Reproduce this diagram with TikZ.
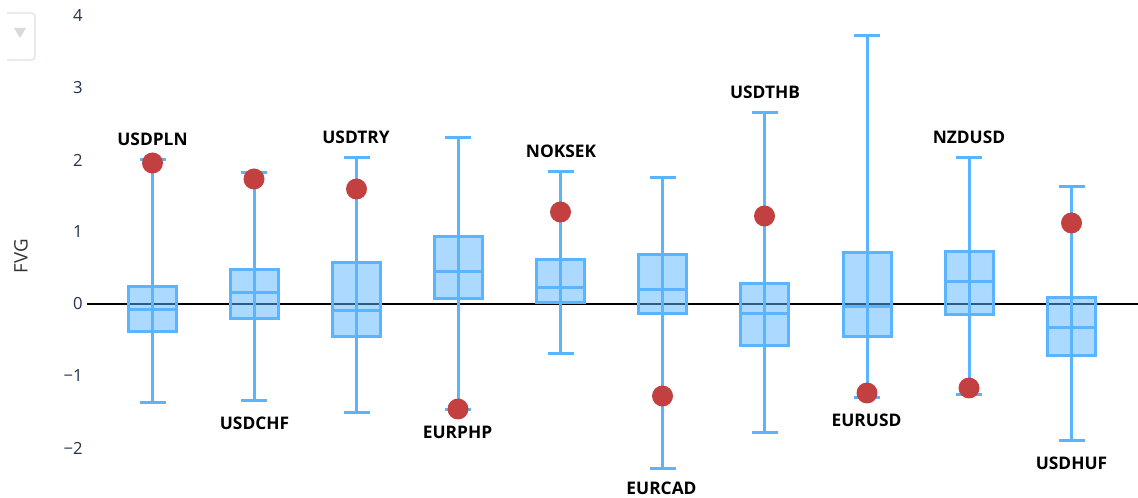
\documentclass[tikz,border=0pt]{standalone}
\usepackage{fontspec}
\setmainfont{Open Sans}
\usepackage{xcolor}
\definecolor{boxblue}{RGB}{90,180,255}
\definecolor{dotred}{RGB}{195,64,64}
\definecolor{ticknavy}{RGB}{32,50,80}
\definecolor{menugray}{RGB}{218,224,234}

\begin{document}
\begin{tikzpicture}[x=0.75pt,y=0.75pt,yscale=-1,xscale=1,
    whisker/.style={draw=boxblue, line width=2.25pt},
    iqrbox/.style={draw=boxblue, fill=boxblue, fill opacity=0.5, draw opacity=1, line width=2.25pt},
    outlier/.style={fill=dotred},
    pairlabel/.style={inner sep=0.75pt, font=\fontsize{13}{15}\selectfont\bfseries},
    ticklabel/.style={anchor=east, inner sep=0.75pt, text=ticknavy, font=\fontsize{12.5}{14}\selectfont}]
        \useasboundingbox (0,0) rectangle (1138,498);

        %Shape: Menu button
        \draw [menugray, line width=0.8pt, rounded corners=2.5pt] (7,13) -- (35,13) -- (35,60) -- (7,60) ;
        \fill [gray!30] (14,28) -- (26,28) -- (20,38) -- cycle ;

        % Text Node
        \draw (84,16) node [ticklabel] (t4) {4};
        \draw (84,88) node [ticklabel] (t3) {3};
        \draw (84,160) node [ticklabel] (t2) {2};
        \draw (84,232) node [ticklabel] (t1) {1};
        \draw (84,304) node [ticklabel] (t0) {0};
        \draw (84,376) node [ticklabel] (tm1) {−1};
        \draw (84,448) node [ticklabel] (tm2) {−2};
        \draw (21,256) node [rotate=90, inner sep=0.75pt, text=black!80, font=\fontsize{14}{16}\selectfont] (fvg) {FVG};

        %Straight Lines: zero line
        \draw [line width=1.9pt] (87,304) -- (1138,304) ;

        %Shape: Box USDPLN
        \draw [whisker] (139.5,160) -- (165.5,160) (152.5,160) -- (152.5,403) (139.5,403) -- (165.5,403) ;
        \draw [iqrbox] (128.5,287) rectangle (176.5,332) ;
        \draw [whisker] (128.5,310) -- (176.5,310) ;
        \fill [outlier] (152.5,163) circle [radius=10.5] ;
        %Shape: Box USDCHF
        \draw [whisker] (241,173) -- (267,173) (254,173) -- (254,401) (241,401) -- (267,401) ;
        \draw [iqrbox] (230,270) rectangle (278,319) ;
        \draw [whisker] (230,293) -- (278,293) ;
        \fill [outlier] (254,179) circle [radius=10.5] ;
        %Shape: Box USDTRY
        \draw [whisker] (343.5,158) -- (369.5,158) (356.5,158) -- (356.5,413) (343.5,413) -- (369.5,413) ;
        \draw [iqrbox] (332.5,263) rectangle (380.5,337) ;
        \draw [whisker] (332.5,311) -- (380.5,311) ;
        \fill [outlier] (356.5,189) circle [radius=10.5] ;
        %Shape: Box EURPHP
        \draw [whisker] (445,138) -- (471,138) (458,138) -- (458,410) (445,410) -- (471,410) ;
        \draw [iqrbox] (434,237) rectangle (482,299) ;
        \draw [whisker] (434,272) -- (482,272) ;
        \fill [outlier] (458,409) circle [radius=10.5] ;
        %Shape: Box NOKSEK
        \draw [whisker] (547.5,172) -- (573.5,172) (560.5,172) -- (560.5,354) (547.5,354) -- (573.5,354) ;
        \draw [iqrbox] (536.5,260) rectangle (584.5,303) ;
        \draw [whisker] (536.5,288) -- (584.5,288) ;
        \fill [outlier] (560.5,212) circle [radius=10.5] ;
        %Shape: Box EURCAD
        \draw [whisker] (649.5,178) -- (675.5,178) (662.5,178) -- (662.5,468) (649.5,468) -- (675.5,468) ;
        \draw [iqrbox] (638.5,255) rectangle (686.5,314) ;
        \draw [whisker] (638.5,290) -- (686.5,290) ;
        \fill [outlier] (662.5,396) circle [radius=10.5] ;
        %Shape: Box USDTHB
        \draw [whisker] (751.5,113) -- (777.5,113) (764.5,113) -- (764.5,433) (751.5,433) -- (777.5,433) ;
        \draw [iqrbox] (740.5,284) rectangle (788.5,346) ;
        \draw [whisker] (740.5,314) -- (788.5,314) ;
        \fill [outlier] (764.5,216) circle [radius=10.5] ;
        %Shape: Box EURUSD
        \draw [whisker] (854,36) -- (880,36) (867,36) -- (867,398) (854,398) -- (880,398) ;
        \draw [iqrbox] (843,253) rectangle (891,337) ;
        \draw [whisker] (843,307) -- (891,307) ;
        \fill [outlier] (867,393) circle [radius=10.5] ;
        %Shape: Box NZDUSD
        \draw [whisker] (956,158) -- (982,158) (969,158) -- (969,395) (956,395) -- (982,395) ;
        \draw [iqrbox] (945,252) rectangle (993,315) ;
        \draw [whisker] (945,282) -- (993,282) ;
        \fill [outlier] (969,388) circle [radius=10.5] ;
        %Shape: Box USDHUF
        \draw [whisker] (1058.5,187) -- (1084.5,187) (1071.5,187) -- (1071.5,441) (1058.5,441) -- (1084.5,441) ;
        \draw [iqrbox] (1047.5,298) rectangle (1095.5,356) ;
        \draw [whisker] (1047.5,328) -- (1095.5,328) ;
        \fill [outlier] (1071.5,223) circle [radius=10.5] ;

        % Text Node
        \draw (152.5,139) node [pairlabel] (usdpln) {USDPLN};
        % Text Node
        \draw (254.5,423) node [pairlabel] (usdchf) {USDCHF};
        % Text Node
        \draw (356,137) node [pairlabel] (usdtry) {USDTRY};
        % Text Node
        \draw (457.5,432) node [pairlabel] (eurphp) {EURPHP};
        % Text Node
        \draw (561,151) node [pairlabel] (noksek) {NOKSEK};
        % Text Node
        \draw (661.5,488) node [pairlabel] (eurcad) {EURCAD};
        % Text Node
        \draw (765,92) node [pairlabel] (usdthb) {USDTHB};
        % Text Node
        \draw (866.5,420) node [pairlabel] (eurusd) {EURUSD};
        % Text Node
        \draw (969,137) node [pairlabel] (nzdusd) {NZDUSD};
        % Text Node
        \draw (1071.5,463) node [pairlabel] (usdhuf) {USDHUF};

\end{tikzpicture}
\end{document}
